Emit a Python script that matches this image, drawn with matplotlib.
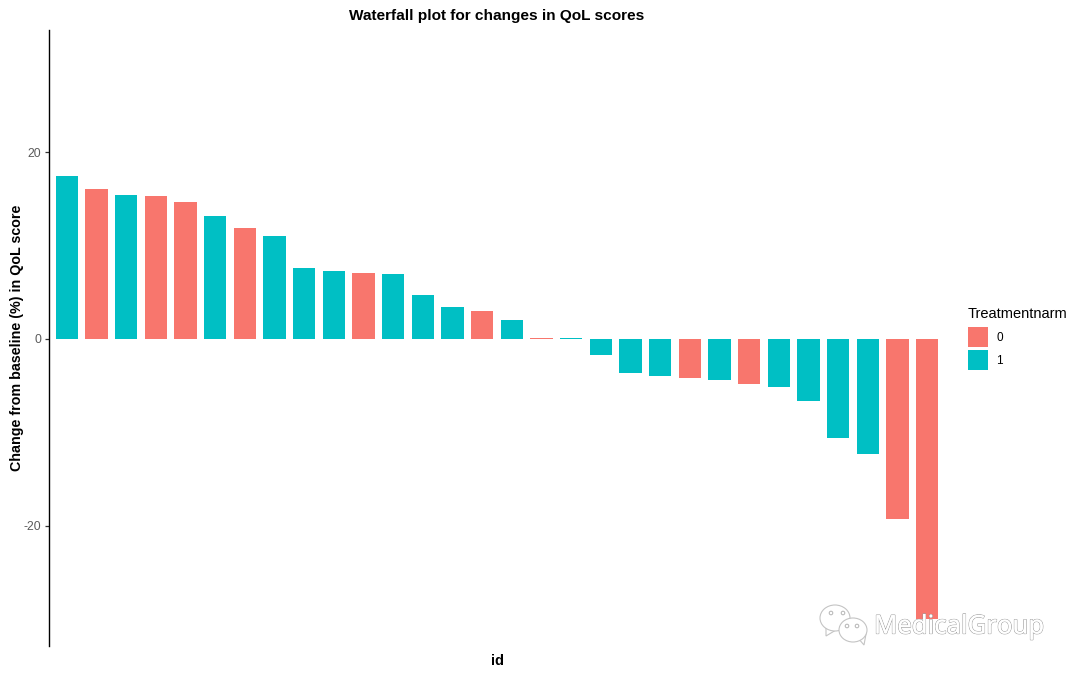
import numpy as np
import matplotlib
matplotlib.use('Agg')
import matplotlib.pyplot as plt
import matplotlib.patheffects as pe
from matplotlib.patches import Patch, Ellipse, Polygon, Circle

plt.rcParams['font.family'] = ['Liberation Sans', 'DejaVu Sans']
plt.rcParams['axes.unicode_minus'] = False

# values, already sorted
change = [17.5, 16.1, 15.4, 15.3, 14.7, 13.2, 11.9, 11.0, 7.6, 7.3,
          7.1, 7.0, 4.7, 3.4, 3.0, 2.0, 0.15, 0.12, -1.7, -3.7,
          -4.0, -4.2, -4.4, -4.8, -5.2, -6.7, -10.6, -12.3, -19.3, -30.0]
arm = [1, 0, 1, 0, 0, 1, 0, 1, 1, 1,
       0, 1, 1, 1, 0, 1, 0, 1, 1, 1,
       1, 0, 1, 0, 1, 1, 1, 1, 0, 0]
arm_labels = ['0', '1']
arm_colors = ['#F8766D', '#00BFC4']

W, H = 1080, 676
fig = plt.figure(figsize=(W / 100, H / 100), dpi=100)
ax = fig.add_axes([49 / W, 1 - 646 / H, (945 - 49) / W, (646 - 30) / H])

x = np.arange(1, len(change) + 1)
ax.bar(x, change, width=0.75, color=[arm_colors[a] for a in arm], linewidth=0)

ax.set_xlim(0.4, 30.6)
ax.set_ylim(-32.9, 33.1)
ax.set_xticks([])
ax.set_yticks([-20, 0, 20])
ax.tick_params(axis='y', labelsize=8.8, labelcolor='#5A5A5A', color='#333333', length=3, width=0.9, pad=2.5)
for s in ['top', 'right', 'bottom']:
    ax.spines[s].set_visible(False)
ax.spines['left'].set_linewidth(1.0)
ax.spines['left'].set_color('black')

fig.text(497 / W, 1 - 16 / H, 'Waterfall plot for changes in QoL scores', fontsize=11.1,
         fontweight='bold', ha='center', va='center')
fig.text(497 / W, 1 - 661 / H, 'id', fontsize=10.5, fontweight='bold', ha='center', va='center')
fig.text(17 / W, 1 - 338 / H, 'Change from baseline (%) in QoL score', fontsize=10.25,
         fontweight='bold', rotation=90, ha='center', va='center')

handles = [Patch(facecolor=c, edgecolor='none') for c in arm_colors]
leg = fig.legend(handles, arm_labels, title='Treatmentnarm', loc='upper left',
                 bbox_to_anchor=(968 / W, 1 - 307 / H), frameon=False, fontsize=8.5,
                 title_fontsize=10.5, handlelength=1.7, handleheight=2.22,
                 labelspacing=0.25, handletextpad=0.7, borderpad=0, borderaxespad=0)
leg._legend_box.align = 'left'
leg._legend_box.sep = 4.5

# watermark, icon and text
wm = [pe.withStroke(linewidth=0.9, foreground='#999999'), pe.Normal()]
fig.text(874 / W, 1 - 627 / H, 'MedicalGroup', fontsize=18.5, family='Noto Sans', color='white',
         ha='left', va='center', path_effects=wm, zorder=10)


def bubble(cx, cy, rx, ry, tail):
    fig.add_artist(Polygon(tail, closed=True, transform=None, facecolor='white', edgecolor='#C4C4C4',
                           linewidth=0.8, zorder=9))
    fig.add_artist(Ellipse((cx, H - cy), 2 * rx, 2 * ry, transform=None, facecolor='white',
                           edgecolor='#C4C4C4', linewidth=0.8, zorder=9))


bubble(835, 618, 15, 13, [(826, H - 626), (826, H - 636), (836, H - 630)])
bubble(853, 630, 14, 12, [(858, H - 638), (864, H - 645), (866, H - 634)])
for ex, ey in [(831, 613), (843, 613), (847, 626), (857, 626)]:
    fig.add_artist(Circle((ex, H - ey), 1.8, transform=None, facecolor='white', edgecolor='#B4B4B4',
                          linewidth=0.7, zorder=10))

fig.savefig('out.png', dpi=100)
